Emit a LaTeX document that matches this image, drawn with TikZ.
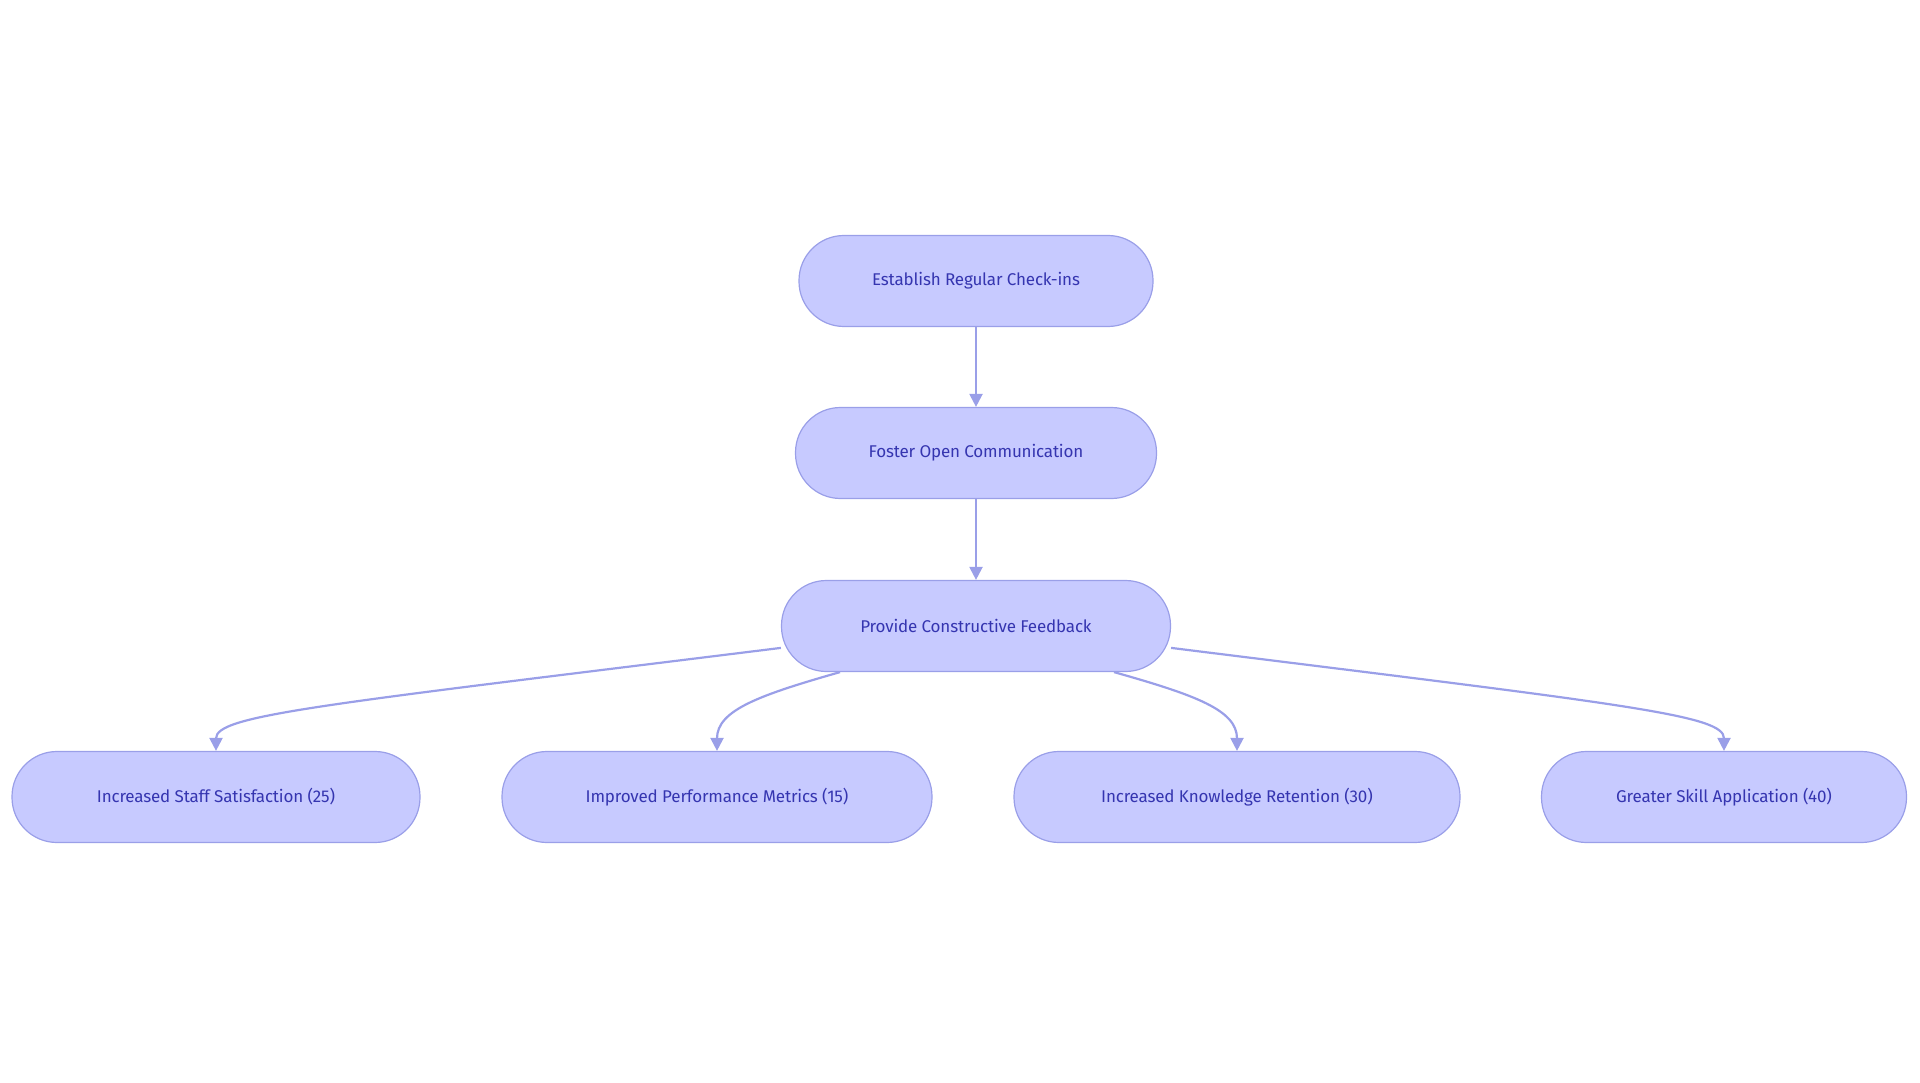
\documentclass[tikz,border=0pt]{standalone}
\usepackage{fontspec}
\setmainfont{Fira Sans}
\usetikzlibrary{calc,arrows.meta}
\definecolor{fillc}{HTML}{C7CAFF}
\definecolor{linec}{HTML}{9A9FE8}
\definecolor{textc}{HTML}{3535B0}
\begin{document}
\begin{tikzpicture}[x=1pt,y=-1pt,
  box/.style={draw=linec,line width=1.2pt,fill=fillc,rounded corners=45pt,minimum height=91pt,text=textc,font=\fontsize{17}{20}\selectfont\addfontfeatures{LetterSpace=-1}},
  conn/.style={draw=linec,line width=2.2pt,-{Triangle[length=13pt,width=13pt]}}]
\useasboundingbox (0,0) rectangle (1920,1083);
\node[box,minimum width=354pt] (n1) at (976,281) {Establish Regular Check-ins};
\node[box,minimum width=361pt] (n2) at (976,453) {Foster Open Communication};
\node[box,minimum width=389pt] (n3) at (976,626) {Provide Constructive Feedback};
\node[box,minimum width=408pt] (b1) at (216,797) {Increased Staff Satisfaction (25)};
\node[box,minimum width=430pt] (b2) at (717,797) {Improved Performance Metrics (15)};
\node[box,minimum width=446pt] (b3) at (1237,797) {Increased Knowledge Retention (30)};
\node[box,minimum width=365pt] (b4) at (1724,797) {Greater Skill Application (40)};
\draw[conn] (n1) -- (n2);
\draw[conn] (n2) -- (n3);
\draw[conn] ($(n3.north west)+(0,68)$) .. controls (320,705) and (216,715) .. (b1.north);
\draw[conn] ($(n3.south)+(-136,0)$) .. controls (760,695) and (717,710) .. (b2.north);
\draw[conn] ($(n3.south)+(138,0)$) .. controls (1195,695) and (1237,710) .. (b3.north);
\draw[conn] ($(n3.north east)+(0,68)$) .. controls (1630,705) and (1724,715) .. (b4.north);
\end{tikzpicture}
\end{document}
